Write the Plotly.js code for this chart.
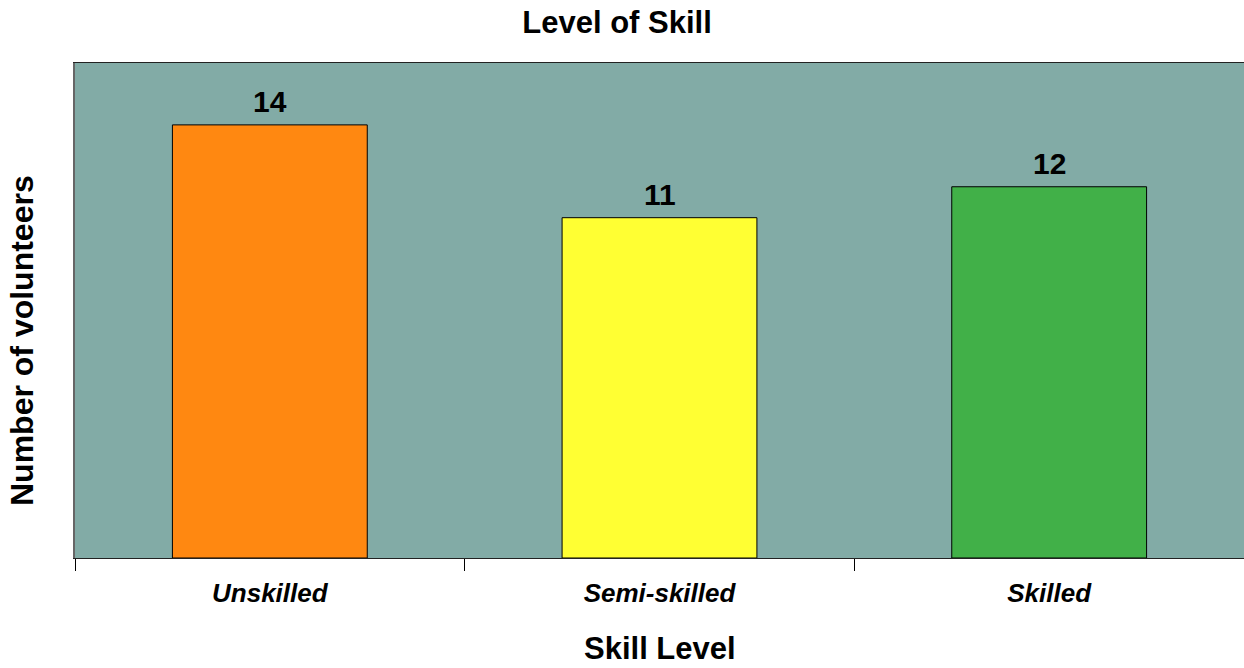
<!DOCTYPE html>
<html>
<head>
<meta charset="utf-8">
<script src="https://cdn.plot.ly/plotly-3.0.1.min.js"></script>
<style>html,body{margin:0;padding:0;background:#fff;}#chart{width:1244px;height:668px;}</style>
</head>
<body>
<div id="chart"></div>
<script>
const categories = ["Unskilled", "Semi-skilled", "Skilled"];
const volunteers = [14, 11, 12];
const barColors = ["#FF8811", "#FFFF33", "#41B048"];

const FONT = "Liberation Sans, Arial, sans-serif";

const trace = {
  type: "bar",
  x: categories,
  y: volunteers,
  width: 0.5,
  marker: { color: barColors, line: { color: "#000", width: 1 } },
  hoverinfo: "x+y"
};

const labelAnns = categories.map((c, i) => ({
  x: c, y: volunteers[i], xref: "x", yref: "y",
  text: "<b>" + volunteers[i] + "</b>",
  showarrow: false, yanchor: "bottom", yshift: 5,
  font: { family: FONT, size: 30, color: "#000" }
}));

const layout = {
  width: 1244, height: 668,
  margin: { l: 75, r: 0, t: 63, b: 110 },
  paper_bgcolor: "#ffffff",
  plot_bgcolor: "#82ABA6",
  showlegend: false,
  bargap: 0.5,
  title: {
    text: "<b>Level of Skill</b>",
    font: { family: FONT, size: 31, color: "#000" },
    x: 0.496, xref: "container", xanchor: "center",
    y: 1 - 22 / 668, yref: "container", yanchor: "middle"
  },
  xaxis: {
    type: "category",
    tickson: "boundaries",
    ticks: "outside", ticklen: 12, tickcolor: "#000", tickwidth: 1,
    showline: true, linecolor: "#222", linewidth: 1, mirror: true,
    showgrid: false, zeroline: false,
    tickfont: { family: FONT, size: 26, color: "#000", style: "italic", weight: "bold" },
    ticklabelstandoff: 12
  },
  yaxis: {
    range: [0, 16],
    showticklabels: false, ticks: "",
    showgrid: false, zeroline: false,
    showline: true, linecolor: "#666", linewidth: 2
  },
  annotations: labelAnns.concat([
    {
      text: "<b>Skill Level</b>", xref: "paper", yref: "paper",
      x: 0.5, y: (558 - 648) / 495, xanchor: "center", yanchor: "middle",
      showarrow: false, font: { family: FONT, size: 31, color: "#000" }
    },
    {
      text: "<b>Number of volunteers</b>", xref: "paper", yref: "paper",
      x: (22 - 75) / 1169, y: (558 - 341) / 495, xanchor: "center", yanchor: "middle",
      textangle: -90,
      showarrow: false, font: { family: FONT, size: 32, color: "#000" }
    }
  ])
};

Plotly.newPlot("chart", [trace], layout, { displayModeBar: false, staticPlot: false });
</script>
</body>
</html>
